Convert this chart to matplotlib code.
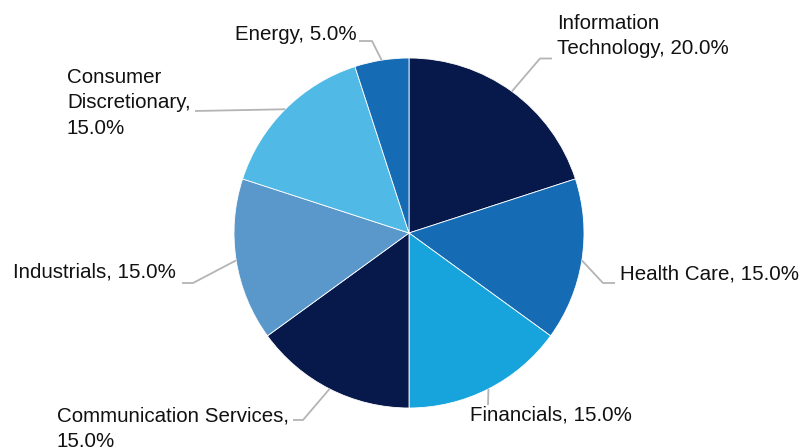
import matplotlib
matplotlib.use("Agg")
import matplotlib.pyplot as plt
import numpy as np

categories = ["Information Technology", "Health Care", "Financials", "Communication Services",
              "Industrials", "Consumer Discretionary", "Energy"]
values = [20.0, 15.0, 15.0, 15.0, 15.0, 15.0, 5.0]
colors = ["#07184a", "#166bb5", "#17a4dc", "#07184a", "#5a98cb", "#50b9e5", "#166bb5"]

label_texts = [
    "Information\nTechnology, 20.0%",
    "Health Care, 15.0%",
    "Financials, 15.0%",
    "Communication Services,\n15.0%",
    "Industrials, 15.0%",
    "Consumer\nDiscretionary,\n15.0%",
    "Energy, 5.0%",
]

W, H = 806, 448
CX, CY, R = 409, 233, 175

def d(px, py):
    return ((px - CX) / R, (CY - py) / R)

# layout: (bend points in px, text anchor px, ha, va)
layout = [
    ([(540, 58.5), (552, 58.5)], (557, 36), "left", "center"),
    ([(603, 283), (615, 283)], (620, 274), "left", "center"),
    ([(488, 405)], (470, 415), "left", "center"),
    ([(303, 420), (293, 420)], (57, 429), "left", "center"),
    ([(193, 283), (182, 283)], (176, 272), "right", "center"),
    ([(195, 111)], (67, 103), "left", "center"),
    ([(372, 41), (359, 41)], (357, 35), "right", "center"),
]

plt.rcParams['font.family'] = ['Liberation Sans', 'DejaVu Sans']
fig = plt.figure(figsize=(W / 100, H / 100), dpi=100)
ax = fig.add_axes([0, 0, 1, 1])
wedges, _ = ax.pie(values, colors=colors, startangle=90, counterclock=False,
                   radius=1.0, center=(0, 0),
                   wedgeprops=dict(linewidth=0.6, edgecolor="white"))
ax.set_xlim(-CX / R, (W - CX) / R)
ax.set_ylim(-(H - CY) / R, CY / R)
ax.set_aspect("auto")
ax.axis("off")

for w, txt, (bends, tpos, ha, va) in zip(wedges, label_texts, layout):
    ang = np.deg2rad((w.theta1 + w.theta2) / 2)
    pts = [(np.cos(ang) * w.r, np.sin(ang) * w.r)] + [d(*b) for b in bends]
    xs, ys = zip(*pts)
    ax.plot(xs, ys, color="#b4b4b4", lw=1.3, solid_capstyle="butt")
    tx, ty = d(*tpos)
    ax.text(tx, ty, txt, ha=ha, va=va, fontsize=14.8, color="#111111",
            linespacing=1.45, multialignment="left")

fig.savefig("out.png", dpi=100)
